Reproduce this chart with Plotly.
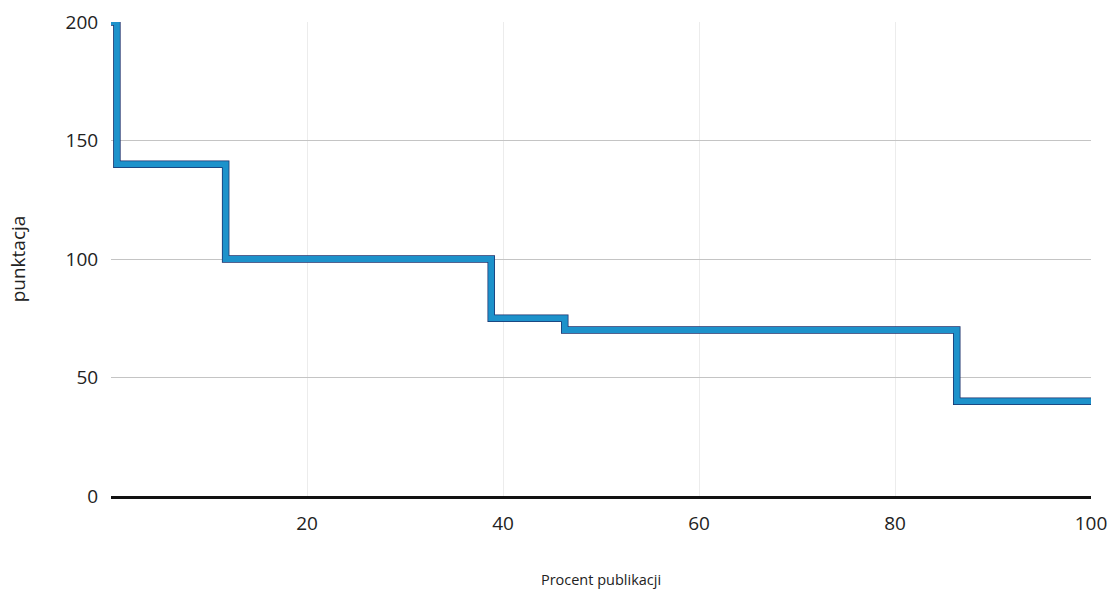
import plotly.graph_objects as go

# Step breakpoints: level y[i] holds from x[i] to x[i+1]
procent = [0, 0.6, 11.7, 38.8, 46.3, 86.3, 100]
punktacja = [200, 140, 100, 75, 70, 40, 40]

x_ticks = [20, 40, 60, 80, 100]
y_ticks = [0, 50, 100, 150, 200]

fig = go.Figure()
fig.add_trace(go.Scatter(x=procent, y=punktacja, mode="lines", line_shape="hv",
                         line=dict(color="#1b2f6b", width=7.5), showlegend=False,
                         hoverinfo="skip"))
fig.add_trace(go.Scatter(x=procent, y=punktacja, mode="lines", line_shape="hv",
                         line=dict(color="#1d92cb", width=6), showlegend=False))

font_family = "Open Sans, Noto Sans, sans-serif"
fig.update_layout(
    width=1112, height=589,
    margin=dict(l=111, r=21, t=22, b=93),
    plot_bgcolor="white", paper_bgcolor="white",
    font=dict(family=font_family, size=19, color="#222222"),
    xaxis=dict(range=[0, 100], tickvals=x_ticks, ticktext=[str(v) for v in x_ticks],
               automargin=False,
               showgrid=True, gridcolor="#ececec", gridwidth=1,
               zeroline=False, showline=True, linecolor="#111111", linewidth=2.5,
               ticks="outside", ticklen=8, tickcolor="rgba(0,0,0,0)",
               title=dict(text="Procent publikacji", font=dict(size=14.5), standoff=41)),
    yaxis=dict(range=[0, 200], tickvals=y_ticks, ticktext=[str(v) for v in y_ticks],
               automargin=False,
               showgrid=True, gridcolor="#c4c4c4", gridwidth=1,
               zeroline=False, showline=False,
               ticks="outside", ticklen=8, tickcolor="rgba(0,0,0,0)",
               title=dict(text="punktacja", font=dict(size=19), standoff=34)),
)

fig.write_html(
    "out.html",
    config={"displayModeBar": False},
    post_script="document.body.style.margin='0';document.body.style.overflow='hidden';",
)
